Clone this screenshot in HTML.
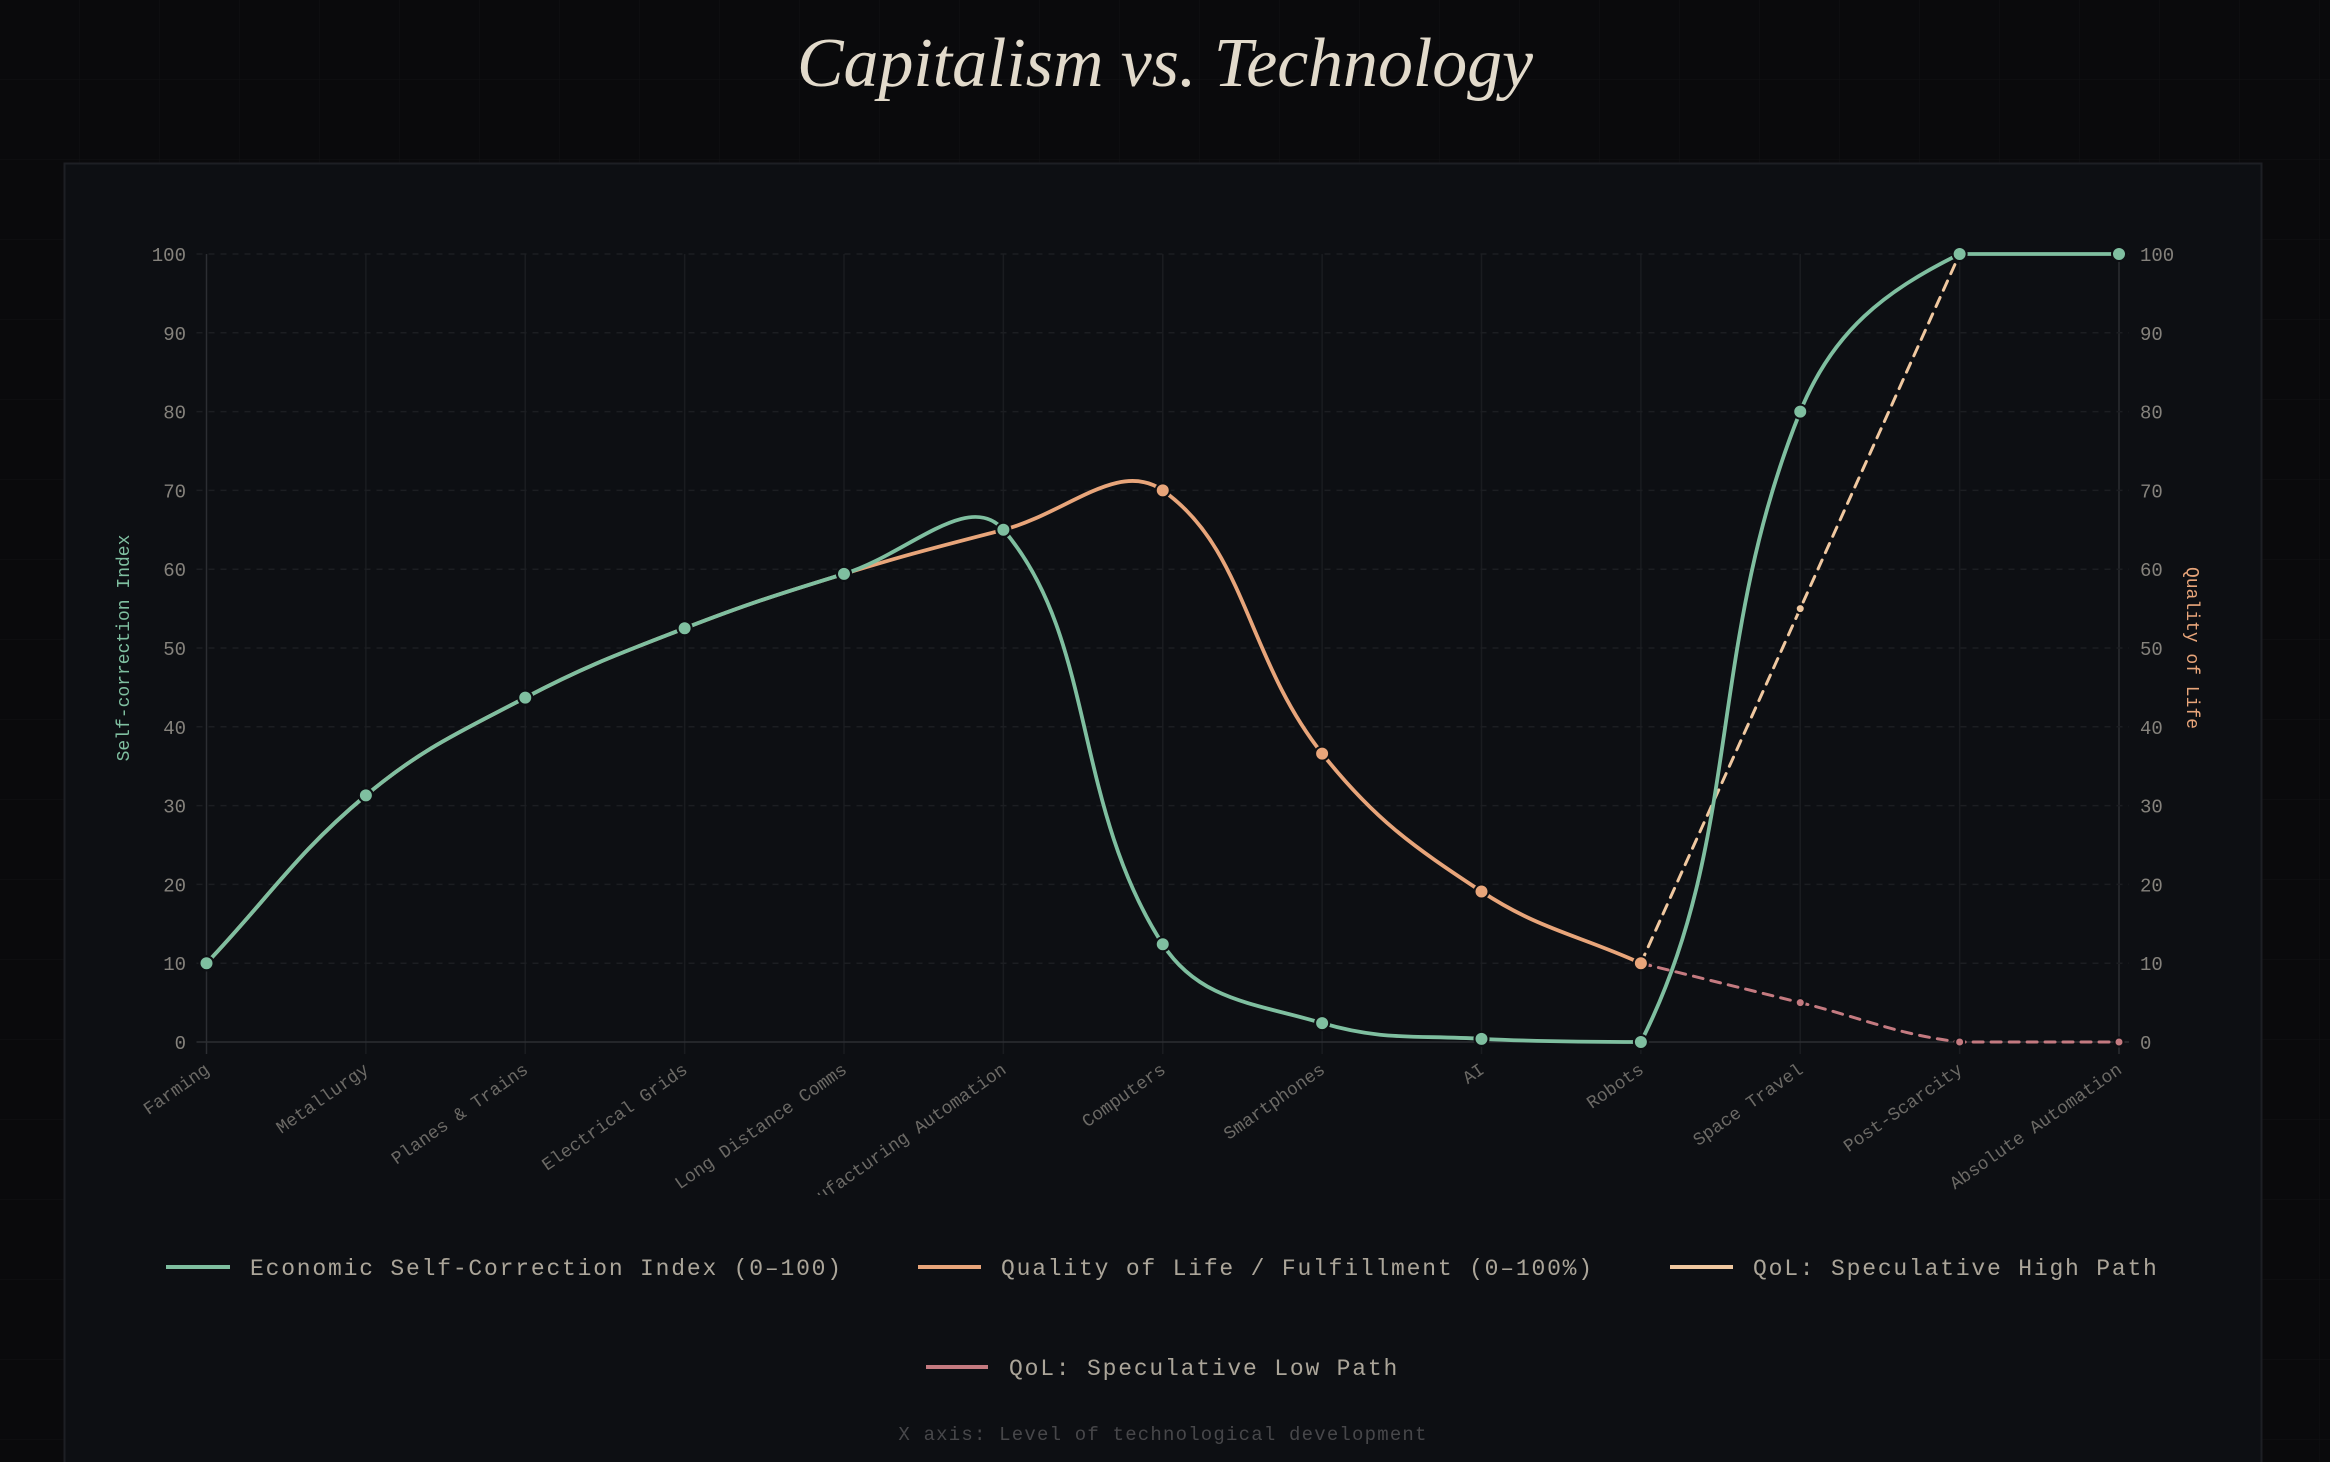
<!DOCTYPE html>
<html><head><meta charset="utf-8"><style>
html,body{margin:0;padding:0;background:#0a0a0c;width:2330px;height:1462px;overflow:hidden}
svg{display:block}
</style></head><body>
<svg id="s" width="2330" height="1462" viewBox="0 0 2330 1462" xmlns="http://www.w3.org/2000/svg">
<defs>
<pattern id="bgg" width="80" height="80" patternUnits="userSpaceOnUse"><path d="M80 0V80M0 80H80" stroke="#111215" stroke-width="1" fill="none"/></pattern>
<clipPath id="lc"><rect x="0" y="0" width="2330" height="1195"/></clipPath>
</defs>
<rect width="2330" height="1462" fill="#0a0a0c"/>
<rect width="2330" height="1462" fill="url(#bgg)"/>
<text x="1165" y="86" text-anchor="middle" font-family="Liberation Serif, serif" font-style="italic" font-size="70" fill="#e2dacb" textLength="736" lengthAdjust="spacingAndGlyphs">Capitalism vs. Technology</text>
<rect x="64.5" y="163.5" width="2197" height="1320" fill="#0d0f13" stroke="#1d1f24" stroke-width="2"/>
<g id="grid"></g>
<g font-family="Liberation Mono, monospace" font-size="19" fill="#85827c" id="yl"></g>
<text transform="translate(129,648) rotate(-90)" text-anchor="middle" font-family="Liberation Mono, monospace" font-size="18" fill="#7fbfa0">Self-correction Index</text>
<text transform="translate(2187,648) rotate(90)" text-anchor="middle" font-family="Liberation Mono, monospace" font-size="18" fill="#e8a57a">Quality of Life</text>
<g clip-path="url(#lc)" font-family="Liberation Mono, monospace" font-size="18" fill="#6c6a66" id="xl"></g>
<g id="series"></g>
<g font-family="Liberation Mono, monospace" font-size="23" fill="#aba599" letter-spacing="1.8">
<line x1="166" y1="1267" x2="230" y2="1267" stroke="#7fbfa0" stroke-width="4"/>
<text x="250" y="1275">Economic Self-Correction Index (0–100)</text>
<line x1="918" y1="1267" x2="981" y2="1267" stroke="#e8a57a" stroke-width="4"/>
<text x="1001" y="1275">Quality of Life / Fulfillment (0–100%)</text>
<line x1="1670" y1="1267" x2="1733" y2="1267" stroke="#f0c8a0" stroke-width="4"/>
<text x="1753" y="1275">QoL: Speculative High Path</text>
<line x1="926" y1="1367" x2="988" y2="1367" stroke="#c47a80" stroke-width="4"/>
<text x="1009" y="1375">QoL: Speculative Low Path</text>
</g>
<text x="1163" y="1440" text-anchor="middle" font-family="Liberation Mono, monospace" font-size="19" letter-spacing="1.2" fill="#47474a">X axis: Level of technological development</text>
</svg>
<script>
var NS="http://www.w3.org/2000/svg";
var L=206.5,R=2119,T=254,B=1042,n=13,dx=(R-L)/12;
function X(i){return L+i*dx}function Y(v){return B-(B-T)*v/100}
function el(p,tag,a,txt){var e=document.createElementNS(NS,tag);for(var k in a)e.setAttribute(k,a[k]);if(txt!=null)e.textContent=txt;p.appendChild(e);return e}
var g=document.getElementById('grid');
for(var i=0;i<n;i++)el(g,'line',{x1:X(i),x2:X(i),y1:T,y2:B+12,stroke:i==0||i==12?'#2c2e33':'#1a1c20','stroke-width':1.5});
for(var v=0;v<=100;v+=10)el(g,'line',{x1:L-10,x2:R+10,y1:Y(v),y2:Y(v),stroke:v==0?'#2c2e33':'#1c1e22','stroke-width':1.5,'stroke-dasharray':v==0?'none':'6 6'});
var yl=document.getElementById('yl');
for(var v=0;v<=100;v+=10){el(yl,'text',{x:186,y:Y(v)+7,'text-anchor':'end'},String(v));el(yl,'text',{x:2140,y:Y(v)+7},String(v));}
var labs=["Farming","Metallurgy","Planes & Trains","Electrical Grids","Long Distance Comms","Manufacturing Automation","Computers","Smartphones","AI","Robots","Space Travel","Post-Scarcity","Absolute Automation"];
var xl=document.getElementById('xl');
labs.forEach(function(t,i){el(xl,'text',{transform:'translate('+(X(i)+4)+','+(B+30)+') rotate(-35)','text-anchor':'end'},t)});
var N=null;
var econ=[10,31.3,43.7,52.5,59.4,65,12.4,2.4,0.4,0,80,100,100];
var qol=[10,31.3,43.7,52.5,59.4,65,70,36.6,19.1,10,N,N,N];
var hi=[N,N,N,N,N,N,N,N,N,10,55,100,N];
var lo=[N,N,N,N,N,N,N,N,N,10,5,0,0];
function path(d){var s='';var runs=[],cur=[];d.forEach(function(v,i){if(v==null){if(cur.length)runs.push(cur);cur=[]}else cur.push([X(i),Y(v)])});if(cur.length)runs.push(cur);
runs.forEach(function(p){var c=p.map(function(q,k){var a=p[k-1]||q,b=p[k+1]||q;var d01=Math.hypot(q[0]-a[0],q[1]-a[1]),d12=Math.hypot(b[0]-q[0],b[1]-q[1]);var s01=d01/(d01+d12)||0,s12=d12/(d01+d12)||0;var fa=0.4*s01,fb=0.4*s12;
function cl(y){return Math.max(T,Math.min(B,y))}
return{p:[q[0]-fa*(b[0]-a[0]),cl(q[1]-fa*(b[1]-a[1]))],n:[q[0]+fb*(b[0]-a[0]),cl(q[1]+fb*(b[1]-a[1]))]}});
s+='M'+p[0][0]+' '+p[0][1];for(var k=1;k<p.length;k++)s+='C'+c[k-1].n[0]+' '+c[k-1].n[1]+' '+c[k].p[0]+' '+c[k].p[1]+' '+p[k][0]+' '+p[k][1];});return s}
var sg=document.getElementById('series');
function series(d,col,w,dash,r){el(sg,'path',{d:path(d),fill:'none',stroke:col,'stroke-width':w,'stroke-dasharray':dash||'none','stroke-linecap':'round'});return function(){d.forEach(function(v,i){if(v!=null)el(sg,'circle',{cx:X(i),cy:Y(v),r:r,fill:col,stroke:'#0d0f13','stroke-width':2})})}}
var m1=series(lo,'#c47a80',3,'10 8',4.5);
var m2=series(hi,'#f0c8a0',3,'10 8',4.5);
var m3=series(qol,'#e8a57a',3.8,null,7);
var m4=series(econ,'#7fbfa0',3.8,null,7);
m1();m2();m3();m4();
</script>
</body></html>
